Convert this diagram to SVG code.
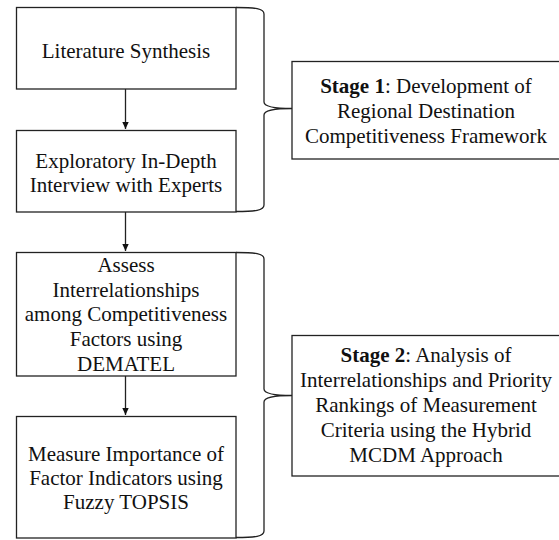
<svg xmlns="http://www.w3.org/2000/svg" width="559" height="540" viewBox="0 0 559 540">
<defs>
<style>
.box{fill:#fff;stroke:#222;stroke-width:1.3}
.t{font-family:"Liberation Serif","Times New Roman",serif;font-size:21px;fill:#111;text-anchor:middle}
.b{font-weight:bold}
.c{fill:none;stroke:#222;stroke-width:1.3}
</style>
<marker id="ah" markerWidth="8" markerHeight="8" refX="7" refY="4" orient="auto" markerUnits="userSpaceOnUse">
<path d="M0,0.8 L7,4 L0,7.2 z" fill="#111"/>
</marker>
</defs>
<rect width="559" height="540" fill="#fff"/>
<g id="connectors">
<line class="c" x1="125.5" y1="89" x2="125.5" y2="129" marker-end="url(#ah)"/>
<line class="c" x1="125.5" y1="212" x2="125.5" y2="251" marker-end="url(#ah)"/>
<line class="c" x1="125.5" y1="376" x2="125.5" y2="415" marker-end="url(#ah)"/>
<path class="c" d="M236,7.5 C255,7.5 264,8.5 264,14 L264,102 C264,107 276,108.5 292,108.5 C276,108.5 264,110 264,115 L264,205 C264,210.5 255,211.5 236,211.5"/>
<path class="c" d="M236,252.5 C255,252.5 264,253.5 264,259 L264,389 C264,394 276,395.5 292,395.5 C276,395.5 264,397 264,402 L264,531 C264,536.5 255,537.5 236,537.5"/>
</g>
<g id="n1">
<rect class="box" x="16.5" y="7.5" width="219.5" height="81.5"/>
<text class="t" x="126" y="58">Literature Synthesis</text>
</g>
<g id="n2">
<rect class="box" x="16.5" y="130.5" width="219.5" height="81.5"/>
<text class="t" x="126" y="168">Exploratory In-Depth</text>
<text class="t" x="126" y="192">Interview with Experts</text>
</g>
<g id="n3">
<rect class="box" x="16.5" y="252.5" width="219.5" height="123.5"/>
<text class="t" x="126" y="272">Assess</text>
<text class="t" x="126" y="297">Interrelationships</text>
<text class="t" x="126" y="321">among Competitiveness</text>
<text class="t" x="126" y="346">Factors using</text>
<text class="t" x="126" y="371">DEMATEL</text>
</g>
<g id="n4">
<rect class="box" x="16.5" y="416.5" width="219.5" height="121.5"/>
<text class="t" x="126" y="461">Measure Importance of</text>
<text class="t" x="126" y="485">Factor Indicators using</text>
<text class="t" x="126" y="509">Fuzzy TOPSIS</text>
</g>
<g id="s1">
<rect class="box" x="292" y="61.5" width="270" height="97.5"/>
<text class="t" x="426" y="93"><tspan class="b">Stage 1</tspan>: Development of</text>
<text class="t" x="426" y="118">Regional Destination</text>
<text class="t" x="426" y="143">Competitiveness Framework</text>
</g>
<g id="s2">
<rect class="box" x="292" y="335.5" width="270" height="140.5"/>
<text class="t" x="426" y="362"><tspan class="b">Stage 2</tspan>: Analysis of</text>
<text class="t" x="426" y="387">Interrelationships and Priority</text>
<text class="t" x="426" y="412">Rankings of Measurement</text>
<text class="t" x="426" y="437">Criteria using the Hybrid</text>
<text class="t" x="426" y="462">MCDM Approach</text>
</g>
</svg>
